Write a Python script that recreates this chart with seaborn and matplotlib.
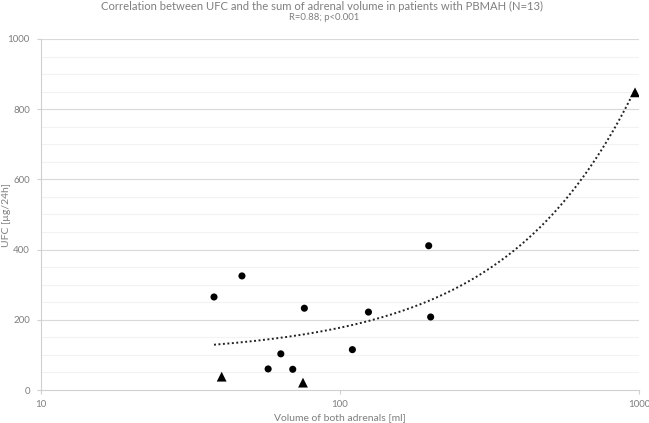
import numpy as np
import pandas as pd
import matplotlib
matplotlib.use("Agg")
import matplotlib.pyplot as plt
import seaborn as sns
from matplotlib.ticker import FixedLocator, NullFormatter

# Data
vol_circle = [37.9, 47.0, 57.5, 63.4, 69.5, 76.0, 110.0, 124.5, 198.0, 201.0]
ufc_circle = [265, 325, 60, 103, 59, 233, 115, 222, 411, 208]
vol_triangle = [40.2, 75.2, 970.0]
ufc_triangle = [38, 21, 848]

title = "Correlation between UFC and the sum of adrenal volume in patients with PBMAH (N=13)"
subtitle = "R=0.88; p<0.001"
xlabel = "Volume of both adrenals [ml]"
ylabel = "UFC [µg/24h]"
xticks = [10, 100, 1000]
yticks = [0, 200, 400, 600, 800, 1000]

df = pd.DataFrame({
    "vol": vol_circle + vol_triangle,
    "ufc": ufc_circle + ufc_triangle,
    "group": ["circle"] * len(vol_circle) + ["triangle"] * len(vol_triangle),
})

sns.set_theme(style="white")
plt.rcParams["font.family"] = ["Lato", "DejaVu Sans"]

fig = plt.figure(figsize=(6.49, 4.23), dpi=100)
ax = fig.add_axes([41 / 649, 1 - 390 / 423, (639 - 41) / 649, (390 - 39) / 423])

ax.set_xscale("log")
ax.set_xlim(10, 1000)
ax.set_ylim(0, 1000)

# gridlines
for v in range(50, 1000, 50):
    ax.axhline(v, color="#f2f2f2" if v % 200 else "#d9d9d9", lw=0.8, zorder=0)
ax.axhline(1000, color="#d9d9d9", lw=0.8, zorder=0)

sns.scatterplot(data=df, x="vol", y="ufc", style="group",
                markers={"circle": "o", "triangle": "^"},
                size="group", sizes={"circle": 26, "triangle": 50},
                color="black", edgecolor="black", linewidth=0,
                legend=False, ax=ax, zorder=3)

# linear trendline
allx = np.array(df["vol"], dtype=float)
ally = np.array(df["ufc"], dtype=float)
b, a = np.polyfit(allx, ally, 1)
xs = np.linspace(allx.min(), allx.max(), 400)
ax.plot(xs, a + b * xs, color="#222222", lw=1.4, linestyle=(0, (1, 1.3)), zorder=2)

for s in ["top", "right"]:
    ax.spines[s].set_visible(False)
for s in ["left", "bottom"]:
    ax.spines[s].set_color("#d0d0d0")
    ax.spines[s].set_linewidth(0.8)

ax.xaxis.set_major_locator(FixedLocator(xticks))
ax.xaxis.set_minor_formatter(NullFormatter())
ax.xaxis.set_minor_locator(FixedLocator([]))
ax.set_xticklabels([str(t) for t in xticks])
ax.yaxis.set_major_locator(FixedLocator(yticks))
ax.set_yticklabels([str(t) for t in yticks])
ax.tick_params(axis="both", colors="#d0d0d0", labelcolor="#7f7f7f", labelsize=7,
               length=3, width=0.8, direction="out", bottom=True, left=True)
ax.tick_params(axis="x", pad=4)
ax.tick_params(axis="y", pad=5)
ax.set_xlabel("")
ax.set_ylabel("")

fig.text(340 / 649, 1 - 418 / 423, xlabel, ha="center", va="center", fontsize=7.5, color="#7f7f7f")
fig.text(7 / 649, 1 - 215 / 423, ylabel, ha="center", va="center", rotation=90,
         fontsize=7.5, color="#7f7f7f")

fig.text(322 / 649, 1 - 6 / 423, title, ha="center", va="center", fontsize=8.1, color="#7f7f7f")
fig.text(324 / 649, 1 - 18 / 423, subtitle, ha="center", va="center", fontsize=6.8, color="#7f7f7f")

fig.savefig("out.png", dpi=100)
